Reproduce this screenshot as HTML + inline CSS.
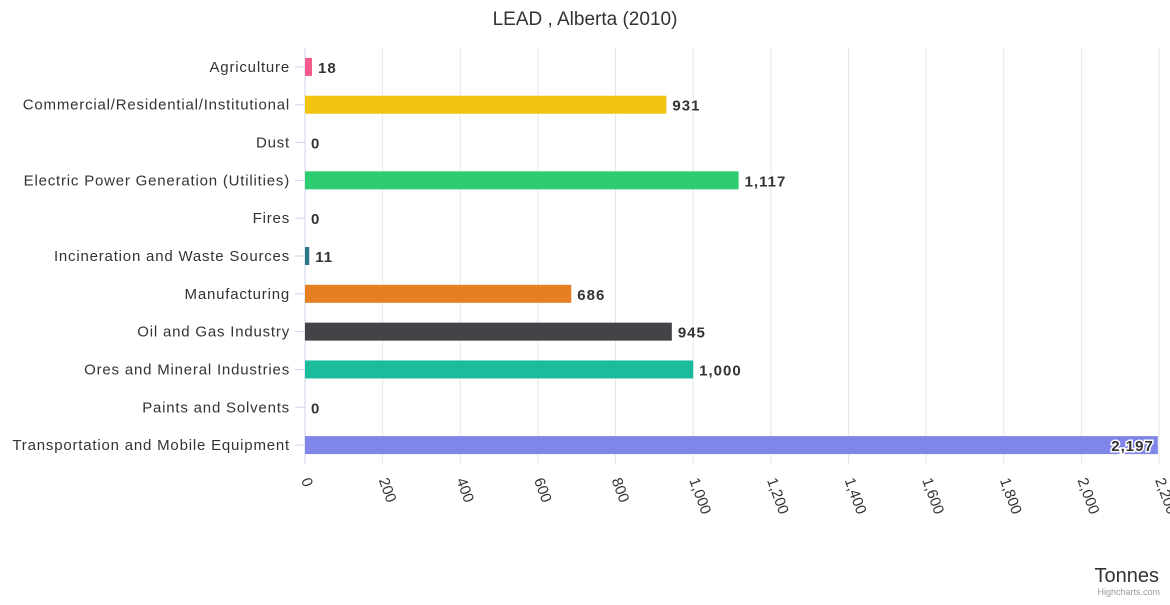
<!DOCTYPE html>
<html><head><meta charset="utf-8"><style>
body{margin:0;background:#fff;font-family:"Liberation Sans",sans-serif;}
</style></head><body>
<svg id="c" width="1170" height="600" xmlns="http://www.w3.org/2000/svg" font-family="Liberation Sans, sans-serif">
<text x="585" y="25" text-anchor="middle" font-size="19" fill="#333">LEAD , Alberta (2010)</text>
<g id="grid"></g><g id="bars"></g><g id="ylabels"></g><g id="xlabels"></g>
<text x="1159" y="582" text-anchor="end" font-size="20" fill="#333">Tonnes</text>
<text x="1160" y="595" text-anchor="end" font-size="9" fill="#999">Highcharts.com</text>
</svg>
<script>
const categories=["Agriculture","Commercial/Residential/Institutional","Dust","Electric Power Generation (Utilities)","Fires","Incineration and Waste Sources","Manufacturing","Oil and Gas Industry","Ores and Mineral Industries","Paints and Solvents","Transportation and Mobile Equipment"];
const values=[18,931,0,1117,0,11,686,945,1000,0,2197];
const colors=["#f45b8a","#f1c40f","#2ecc71","#2ecc71","#7f8c8d","#2b7a8c","#e67e22","#434348","#1abc9c","#9b59b6","#8085e9"];
const ticks=[0,200,400,600,800,1000,1200,1400,1600,1800,2000,2200];
const NS="http://www.w3.org/2000/svg";
const x0=305,x1=1159,yTop=48,yBot=464,xmax=2200;
const xs=v=>x0+v/xmax*(x1-x0);
const band=(yBot-yTop)/categories.length;
const yc=i=>yTop+band*(i+0.5);
function mk(t,a,p){const e=document.createElementNS(NS,t);for(const k in a)e.setAttribute(k,a[k]);p.appendChild(e);return e;}
const fmt=v=>v.toLocaleString("en-US");
const g=document.getElementById("grid"),b=document.getElementById("bars"),yl=document.getElementById("ylabels"),xl=document.getElementById("xlabels");
ticks.forEach(t=>{
 const l=mk("line",{x1:xs(t),x2:xs(t),y1:yTop,y2:yBot,stroke:t===0?"#ccd6eb":"#e6e6e6","stroke-width":1},g);
 
 
 const tx=mk("text",{x:0,y:0,"font-size":15,fill:"#333",transform:`translate(${xs(t)-4},${yBot+16}) rotate(70)`},xl);
 tx.textContent=fmt(t);
 
 
});
categories.forEach((c,i)=>{
 const y=yc(i);
 const tk=mk("line",{x1:x0-10,x2:x0,y1:y,y2:y,stroke:"#ccd6eb"},yl);
 
 
 const t=mk("text",{x:290,y:y+5,"text-anchor":"end","font-size":15,"letter-spacing":"0.8",fill:"#333"},yl);
 t.textContent=c;
 
 
 const w=xs(values[i])-x0;
 const r=mk("rect",{x:x0,y:y-9,width:w,height:18,fill:colors[i]},b);
 
 
 const inside=xs(values[i])+60>1165;
 const dl=mk("text",{x:inside?xs(values[i])-4:xs(values[i])+6,y:y+6,"text-anchor":inside?"end":"start","font-size":15,"letter-spacing":"1","font-weight":"bold",fill:"#333",stroke:"#fff","stroke-width":3,"paint-order":"stroke"},b);
 dl.textContent=fmt(values[i]);
 
 
});
</script>
</body></html>
